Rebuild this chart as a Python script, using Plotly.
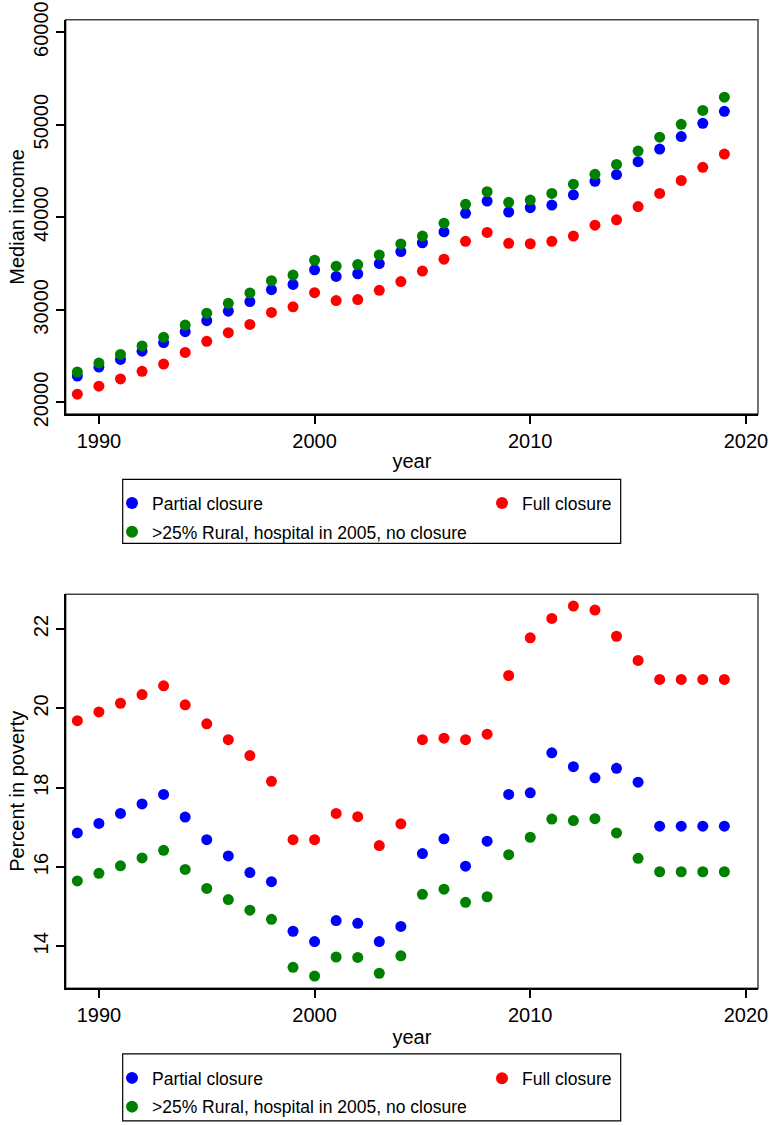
import plotly.graph_objects as go

# ---- data -------------------------------------------------------------
years = list(range(1989, 2020))

income_partial = [22860, 23825, 24650, 25540, 26470, 27650, 28830, 29860, 30900, 32180,
                  32750, 34330, 33610, 33900, 35000, 36300, 37250, 38430, 40430, 41750,
                  40570, 41040, 41320, 42430, 43890, 44610, 46000, 47360, 48710, 50140, 51440]
income_full = [20900, 21760, 22540, 23360, 24150, 25400, 26610, 27540, 28430, 29720,
               30330, 31860, 31000, 31110, 32110, 33060, 34190, 35470, 37400, 38360,
               37190, 37140, 37400, 37970, 39150, 39720, 41150, 42570, 43970, 45390, 46830]
income_rural = [23290, 24250, 25190, 26110, 27040, 28360, 29640, 30710, 31830, 33150,
                33760, 35360, 34720, 34890, 35930, 37120, 37970, 39360, 41400, 42760,
                41610, 41860, 42570, 43570, 44640, 45710, 47150, 48650, 50040, 51540, 52970]

poverty_partial = [16.86, 17.10, 17.35, 17.59, 17.83, 17.26, 16.69, 16.28, 15.86, 15.63,
                   14.38, 14.12, 14.65, 14.58, 14.12, 14.50, 16.34, 16.71, 16.02, 16.65,
                   17.83, 17.87, 18.88, 18.53, 18.25, 18.49, 18.14, 17.03, 17.03, 17.03, 17.03]
poverty_full = [19.69, 19.91, 20.13, 20.35, 20.57, 20.09, 19.61, 19.21, 18.81, 18.16,
                16.69, 16.69, 17.35, 17.27, 16.54, 17.09, 19.21, 19.25, 19.21, 19.35,
                20.83, 21.78, 22.27, 22.58, 22.48, 21.82, 21.21, 20.73, 20.73, 20.73, 20.73]
poverty_rural = [15.65, 15.84, 16.03, 16.23, 16.42, 15.94, 15.46, 15.18, 14.91, 14.68,
                 13.47, 13.25, 13.73, 13.72, 13.32, 13.76, 15.31, 15.44, 15.11, 15.25,
                 16.31, 16.75, 17.21, 17.17, 17.22, 16.86, 16.22, 15.88, 15.88, 15.88, 15.88]

labels = ["Partial closure", "Full closure", ">25% Rural, hospital in 2005, no closure"]
colors = ["#0000FF", "#FF0000", "#008000"]

x_ticks = [1990, 2000, 2010, 2020]
income_ticks = [20000, 30000, 40000, 50000, 60000]
poverty_ticks = [14, 16, 18, 20, 22]

# ---- figure geometry (pixels) ------------------------------------------
W, H = 769, 1125
FONT = "Liberation Sans, Arial, sans-serif"


def px_x(v):
    return v / W


def px_y(v):
    return 1 - v / H


x_dom = [px_x(65.7), px_x(758)]
top_dom = [px_y(417.3), px_y(20)]
bot_dom = [px_y(996.3), px_y(599)]

fig = go.Figure()

panels = [
    ("x", "y", [income_partial, income_full, income_rural], ["legend", "legend2", "legend"]),
    ("x2", "y2", [poverty_partial, poverty_full, poverty_rural], ["legend3", "legend4", "legend3"]),
]
for xa, ya, series, legs in panels:
    for name, vals, col, leg in zip(labels, series, colors, legs):
        fig.add_trace(go.Scatter(
            x=years, y=vals, mode="markers", name=name,
            marker=dict(color=col, size=11, line=dict(width=0)),
            xaxis=xa, yaxis=ya, legend=leg, legendgroup=name + xa,
            showlegend=True,
        ))

axis_common = dict(
    showgrid=False, zeroline=False, showline=True, linecolor="black", linewidth=2,
    ticks="outside", ticklen=8, tickwidth=1.5, tickcolor="black",
    tickfont=dict(family=FONT, size=20, color="black"),
    automargin=False,
)
title_font = dict(family=FONT, size=20, color="black")

fig.update_layout(
    width=W, height=H,
    margin=dict(l=0, r=0, t=0, b=0),
    paper_bgcolor="white", plot_bgcolor="white",
    font=dict(family=FONT, color="black"),
    xaxis=dict(domain=x_dom, anchor="y", range=[1988.46, 2020.56], tickvals=x_ticks,
               tickformat="d",
               title=dict(text="year", font=title_font, standoff=3),
               **axis_common),
    yaxis=dict(domain=top_dom, anchor="x", range=[18760, 61320], tickvals=income_ticks,
               tickformat="d", tickangle=-90,
               title=dict(text="Median income", font=title_font, standoff=0),
               **axis_common),
    xaxis2=dict(domain=x_dom, anchor="y2", range=[1988.46, 2020.56], tickvals=x_ticks,
                tickformat="d",
                title=dict(text="year", font=title_font, standoff=5),
                **axis_common),
    yaxis2=dict(domain=bot_dom, anchor="x2", range=[12.94, 22.88], tickvals=poverty_ticks,
                tickformat="d", tickangle=-90,
                title=dict(text="Percent in poverty", font=title_font, standoff=0),
                **axis_common),
)

# legends: left column (blue + green) and right column (red) for each panel
leg_font = dict(family=FONT, size=17.5, color="black")


def legend_box(x_left, y_top):
    return dict(x=px_x(x_left), y=px_y(y_top), xanchor="left", yanchor="top",
                orientation="v", bgcolor="rgba(0,0,0,0)", borderwidth=0,
                font=leg_font, tracegroupgap=3, itemsizing="constant")


fig.update_layout(
    legend=legend_box(112, 489),
    legend2=legend_box(482, 489),
    legend3=legend_box(112, 1069),
    legend4=legend_box(482, 1069),
)

# plot frames and legend frames
shapes = []
for xr, yr in [("x domain", "y domain"), ("x2 domain", "y2 domain")]:
    shapes.append(dict(type="rect", xref=xr, yref=yr, x0=0, x1=1, y0=0, y1=1,
                       line=dict(color="#444444", width=1.5), layer="below"))
shapes.append(dict(type="rect", xref="paper", yref="paper",
                   x0=px_x(122.7), x1=px_x(620.7), y0=px_y(547.7), y1=px_y(483.3),
                   line=dict(color="black", width=1.2), layer="below"))
shapes.append(dict(type="rect", xref="paper", yref="paper",
                   x0=px_x(122.7), x1=px_x(620.7), y0=px_y(1130), y1=px_y(1062.3),
                   line=dict(color="black", width=1.2), layer="below"))
fig.update_layout(shapes=shapes)

fig.write_html("out.html")
